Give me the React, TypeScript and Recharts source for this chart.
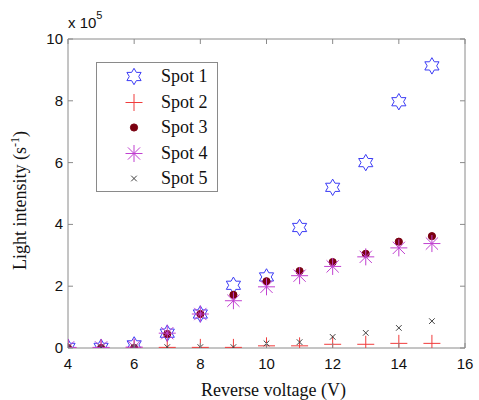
import React from "react";
import { ScatterChart, Scatter, XAxis, YAxis } from "recharts";

const voltages = [4, 5, 6, 7, 8, 9, 10, 11, 12, 13, 14, 15];
const spot1 = [0.02, 0.02, 0.1, 0.48, 1.1, 2.03, 2.3, 3.9, 5.2, 6.0, 7.97, 9.13];
const spot2 = [0.0, 0.0, 0.0, 0.02, 0.02, 0.02, 0.07, 0.07, 0.12, 0.12, 0.15, 0.15];
const spot3 = [0.0, 0.0, 0.0, 0.45, 1.1, 1.72, 2.16, 2.49, 2.78, 3.05, 3.44, 3.62];
const spot4 = [0.02, 0.02, 0.03, 0.48, 1.1, 1.53, 1.98, 2.34, 2.64, 2.95, 3.24, 3.38];
const spot5 = [0.02, 0.02, 0.02, 0.03, 0.03, 0.03, 0.15, 0.19, 0.36, 0.49, 0.65, 0.87];
const xTicks = [4, 6, 8, 10, 12, 14, 16];
const yTicks = [0, 2, 4, 6, 8, 10];
const seriesNames = ["Spot 1", "Spot 2", "Spot 3", "Spot 4", "Spot 5"];

const colors = ["#3b3bf5", "#f03c3c", "#7a0010", "#c040d0", "#404040"];

const toPoints = (vals: number[]) => voltages.map((v, i) => ({ x: v, y: vals[i] }));
const allSeries = [spot1, spot2, spot3, spot4, spot5].map(toPoints);

const AXIS_COLOR = "#8a8a8a";
const TICK_FONT = "'Liberation Sans', Arial, sans-serif";
const LABEL_FONT = "'Liberation Serif', 'Times New Roman', serif";

function Marker({ kind, cx, cy }: { kind: number; cx: number; cy: number }) {
  const c = colors[kind];
  if (kind === 0) {
    const R = 8.2;
    const r = R / Math.sqrt(3);
    const pts: string[] = [];
    for (let k = 0; k < 12; k++) {
      const ang = (-90 + k * 30) * (Math.PI / 180);
      const rad = k % 2 === 0 ? R : r;
      pts.push(`${cx + rad * Math.cos(ang)},${cy + rad * Math.sin(ang)}`);
    }
    return <polygon points={pts.join(" ")} fill="none" stroke={c} strokeWidth={1} />;
  }
  if (kind === 1) {
    const s = 8.5;
    return (
      <g stroke={c} strokeWidth={1}>
        <line x1={cx - s} y1={cy} x2={cx + s} y2={cy} />
        <line x1={cx} y1={cy - s} x2={cx} y2={cy + s} />
      </g>
    );
  }
  if (kind === 2) {
    return <circle cx={cx} cy={cy} r={3.6} fill={c} stroke={c} />;
  }
  if (kind === 3) {
    const s = 8.5;
    const d = s * 0.72;
    return (
      <g stroke={c} strokeWidth={1}>
        <line x1={cx - s} y1={cy} x2={cx + s} y2={cy} />
        <line x1={cx} y1={cy - s} x2={cx} y2={cy + s} />
        <line x1={cx - d} y1={cy - d} x2={cx + d} y2={cy + d} />
        <line x1={cx - d} y1={cy + d} x2={cx + d} y2={cy - d} />
      </g>
    );
  }
  const s = 2.8;
  return (
    <g stroke={c} strokeWidth={1}>
      <line x1={cx - s} y1={cy - s} x2={cx + s} y2={cy + s} />
      <line x1={cx - s} y1={cy + s} x2={cx + s} y2={cy - s} />
    </g>
  );
}

const makeShape = (kind: number) => (props: any) => <Marker kind={kind} cx={props.cx} cy={props.cy} />;

const BottomTick = (props: any) => {
  const { x, y, payload } = props;
  return (
    <g>
      <line x1={x} y1={y} x2={x} y2={y - 5} stroke={AXIS_COLOR} />
      <text x={x} y={y + 21} textAnchor="middle" fontFamily={TICK_FONT} fontSize={15} fill="#111">
        {payload.value}
      </text>
    </g>
  );
};

const TopTick = (props: any) => {
  const { x, y } = props;
  return <line x1={x} y1={y} x2={x} y2={y + 5} stroke={AXIS_COLOR} />;
};

const LeftTick = (props: any) => {
  const { x, y, payload } = props;
  return (
    <g>
      <line x1={x} y1={y} x2={x + 5} y2={y} stroke={AXIS_COLOR} />
      <text x={x - 5} y={y + 5} textAnchor="end" fontFamily={TICK_FONT} fontSize={15} fill="#111">
        {payload.value}
      </text>
    </g>
  );
};

const RightTick = (props: any) => {
  const { x, y } = props;
  return <line x1={x} y1={y} x2={x - 5} y2={y} stroke={AXIS_COLOR} />;
};

const XLabel = (props: any) => {
  const vb = props.viewBox;
  return (
    <text x={vb.x + vb.width / 2 + 7} y={vb.y + 48} textAnchor="middle" fontFamily={LABEL_FONT} fontSize={18} fill="#111">
      Reverse voltage (V)
    </text>
  );
};

const YLabel = (props: any) => {
  const vb = props.viewBox;
  const cx = vb.x + 26;
  const cy = vb.y + vb.height / 2 + 7;
  return (
    <g>
      <text
        x={cx}
        y={cy}
        transform={`rotate(-90, ${cx}, ${cy})`}
        textAnchor="middle"
        fontFamily={LABEL_FONT}
        fontSize={18}
        fill="#111"
      >
        Light intensity (s
        <tspan dy={-7} fontSize={12}>-1</tspan>
        <tspan dy={7}>)</tspan>
      </text>
      <text x={vb.x + vb.width} y={vb.y - 11} fontFamily={TICK_FONT} fontSize={15} fill="#111">
        x 10
        <tspan dy={-9} fontSize={11}>5</tspan>
      </text>
    </g>
  );
};

const LegendBox = () => (
  <div
    style={{
      position: "absolute",
      left: 96,
      top: 62,
      width: 122,
      height: 130,
      border: `1px solid ${AXIS_COLOR}`,
      background: "#fff",
      boxSizing: "border-box",
      paddingTop: 1,
    }}
  >
    {seriesNames.map((n, i) => (
      <div key={n} style={{ display: "flex", alignItems: "center", height: 25.5 }}>
        <svg width={60} height={25} style={{ display: "block" }}>
          <Marker kind={i} cx={37} cy={12.5} />
        </svg>
        <span style={{ fontFamily: LABEL_FONT, fontSize: 18, color: "#111", marginLeft: 4 }}>{n}</span>
      </div>
    ))}
  </div>
);

export default function App() {
  return (
    <div style={{ position: "absolute", left: 0, top: 0, width: 479, height: 400, background: "#fff" }}>
      <ScatterChart width={479} height={400} margin={{ top: 38, right: 13, bottom: 0, left: 0 }}>
        <XAxis
          xAxisId={0}
          type="number"
          dataKey="x"
          domain={[4, 16]}
          ticks={xTicks}
          allowDataOverflow
          height={52}
          tickSize={0}
          tickMargin={0}
          tickLine={false}
          stroke={AXIS_COLOR}
          tick={<BottomTick />}
          label={<XLabel />}
        />
        <XAxis
          xAxisId="top"
          orientation="top"
          type="number"
          dataKey="x"
          domain={[4, 16]}
          ticks={xTicks}
          allowDataOverflow
          height={1}
          tickSize={0}
          tickMargin={0}
          tickLine={false}
          stroke={AXIS_COLOR}
          tick={<TopTick />}
        />
        <YAxis
          yAxisId={0}
          type="number"
          dataKey="y"
          domain={[0, 10]}
          ticks={yTicks}
          allowDataOverflow
          width={68}
          tickSize={0}
          tickMargin={0}
          tickLine={false}
          stroke={AXIS_COLOR}
          tick={<LeftTick />}
          label={<YLabel />}
        />
        <YAxis
          yAxisId="right"
          orientation="right"
          type="number"
          dataKey="y"
          domain={[0, 10]}
          ticks={yTicks}
          allowDataOverflow
          width={1}
          tickSize={0}
          tickMargin={0}
          tickLine={false}
          stroke={AXIS_COLOR}
          tick={<RightTick />}
        />
        {allSeries.map((data, i) => (
          <Scatter
            key={seriesNames[i]}
            name={seriesNames[i]}
            data={data}
            xAxisId={0}
            yAxisId={0}
            fill={colors[i]}
            shape={makeShape(i)}
            isAnimationActive={false}
          />
        ))}
      </ScatterChart>
      <LegendBox />
    </div>
  );
}
